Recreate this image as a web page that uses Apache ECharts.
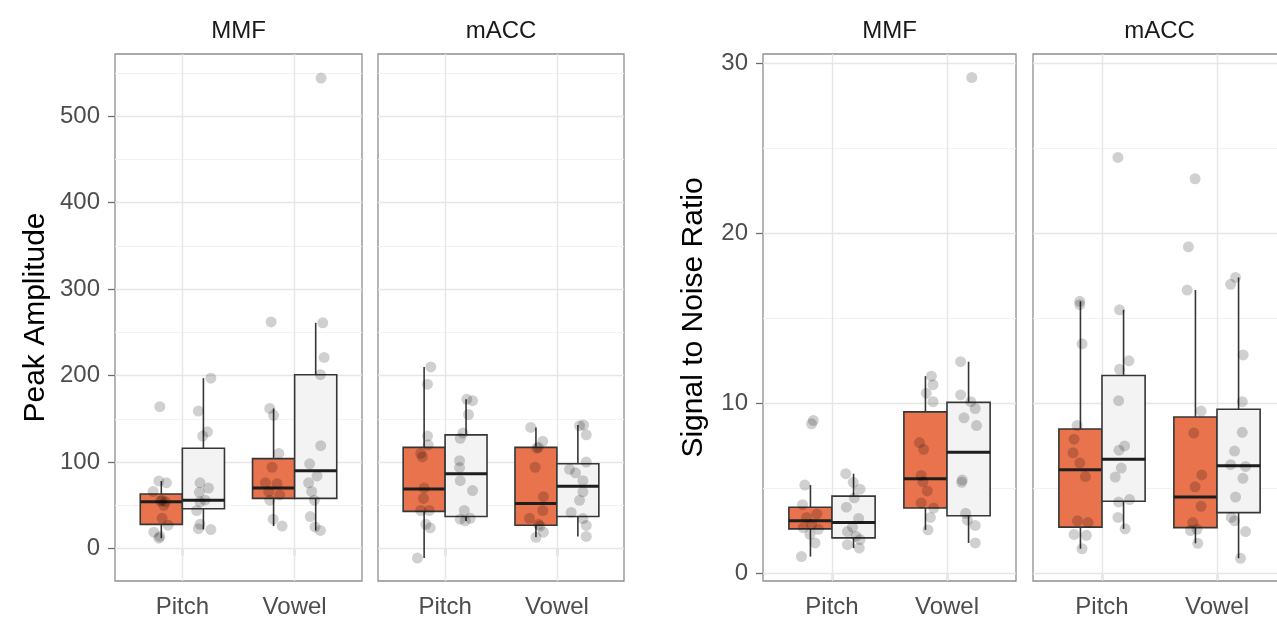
<!DOCTYPE html>
<html>
<head>
<meta charset="utf-8">
<script src="https://cdn.jsdelivr.net/npm/echarts@6/dist/echarts.min.js"></script>
<style>
html,body{margin:0;padding:0;background:#fff;}
#chart{width:1277px;height:617px;}
</style>
</head>
<body>
<div id="chart"></div>
<script>
// ---------- data ----------
const categories = ['Pitch', 'Vowel'];
const facetLabels = ['MMF', 'mACC'];
const yTitles = ['Peak Amplitude', 'Signal to Noise Ratio'];

const ampTicks = [0, 100, 200, 300, 400, 500];
const ampMinor = [50, 150, 250, 350, 450, 550];
const snrTicks = [0, 10, 20, 30];
const snrMinor = [5, 15, 25];

// box stats per category: [lower whisker, Q1, median, Q3, upper whisker]
const ampMmfBoxOrange = [[12, 28, 54, 63, 78], [26, 58, 70, 104, 162]];
const ampMmfBoxGray   = [[22, 46, 56, 116, 197], [21, 58, 90, 201, 261]];
const ampMacBoxOrange = [[-11, 43, 69, 117, 210], [13, 27, 52, 117, 140]];
const ampMacBoxGray   = [[32, 37, 86.5, 131.5, 172.5], [14, 37, 72, 98, 143]];
const snrMmfBoxOrange = [[1.0, 2.63, 3.1, 3.9, 5.2], [2.57, 3.85, 5.57, 9.5, 11.6]];
const snrMmfBoxGray   = [[1.5, 2.1, 3.0, 4.55, 5.87], [1.8, 3.4, 7.13, 10.06, 12.45]];
const snrMacBoxOrange = [[1.46, 2.73, 6.1, 8.5, 16.0], [1.78, 2.7, 4.5, 9.2, 16.66]];
const snrMacBoxGray   = [[2.63, 4.25, 6.72, 11.64, 15.5], [0.9, 3.58, 6.34, 9.66, 17.4]];

// individual observations per category, with their horizontal jitter
const ampMmfPtsOrange = [[164, 78, 76, 66, 56, 55, 54, 50, 35, 27, 19, 12, 14],
                         [262, 162, 154, 110, 94, 76, 75, 66, 62, 56, 34, 26]];
const ampMmfJitOrange = [[-0.013, -0.022, 0.046, -0.073, 0.007, -0.007, 0.037, 0.022, 0.007, 0.061, -0.067, -0.022, -0.013],
                         [-0.022, -0.034, 0.0, 0.046, -0.013, -0.073, 0.031, -0.043, 0.055, -0.034, -0.004, 0.076]];
const ampMmfPtsGray   = [[197, 159, 135, 130, 76, 65, 70, 56, 54, 44, 28, 23, 22],
                         [544, 261, 221, 201, 119, 98, 84, 76, 66, 56, 37, 25, 21]];
const ampMmfJitGray   = [[0.066, -0.045, 0.036, -0.006, -0.03, -0.036, 0.045, 0.015, -0.03, -0.06, -0.03, -0.045, 0.066],
                         [0.048, 0.063, 0.075, 0.042, 0.045, -0.054, 0.012, -0.063, -0.036, -0.012, -0.048, -0.006, 0.042]];

const ampMacPtsOrange = [[210, 190, 130, 120, 110, 106, 70, 58, 44, 44, 28, 24, -11],
                         [140, 124, 117, 116, 94, 60, 44, 35, 28, 26, 19, 13]];
const ampMacJitOrange = [[0.06, 0.03, 0.03, 0.036, -0.03, -0.015, 0, -0.006, -0.03, 0.045, 0.015, 0.054, -0.06],
                         [-0.046, 0.061, 0.022, 0.007, -0.007, 0.067, 0.061, -0.058, 0.022, 0.037, 0.067, 0.0]];
const ampMacPtsGray   = [[172.5, 171, 155, 133.5, 127.5, 101.6, 93.6, 78.5, 67, 44, 34, 32, 35],
                         [143, 131.5, 142, 100, 91.6, 87.6, 78.5, 65.7, 55.8, 41.8, 34.7, 26.7, 14]];
const ampMacJitGray   = [[0.007, 0.058, 0.022, -0.028, -0.052, -0.058, -0.058, -0.052, 0.058, -0.016, -0.052, -0.007, 0.037],
                         [0.051, 0.075, 0.015, 0.075, -0.075, -0.021, 0.045, 0.045, 0.015, -0.06, 0.045, 0.075, 0.075]];

const snrMmfPtsOrange = [[9.0, 8.8, 5.2, 4.05, 3.5, 3.3, 2.9, 2.7, 2.6, 2.3, 1.8, 1.0],
                         [11.6, 11.1, 10.6, 10.1, 7.7, 7.3, 5.77, 5.4, 4.86, 4.15, 3.85, 3.3, 2.57]];
const snrMmfJitOrange = [[0.025, 0.01, -0.049, -0.069, 0.055, -0.034, 0.01, -0.063, 0.069, -0.004, 0.04, -0.078],
                         [0.052, 0.066, 0.007, 0.066, -0.052, -0.016, -0.037, -0.022, 0.016, -0.037, 0.072, 0.043, 0.022]];
const snrMmfPtsGray   = [[5.87, 5.36, 4.96, 4.45, 3.9, 3.24, 2.73, 2.47, 2.2, 2.0, 1.7, 1.5],
                         [29.15, 12.45, 10.5, 10.1, 9.7, 9.15, 8.7, 5.5, 5.36, 3.54, 3.14, 2.83, 1.8]];
const snrMmfJitGray   = [[-0.068, -0.003, 0.056, 0.006, -0.062, 0.044, -0.009, -0.053, 0.021, 0.056, -0.053, 0.05],
                         [0.028, -0.069, -0.069, 0.019, 0.058, -0.04, 0.069, -0.055, -0.06, -0.025, -0.01, 0.058, 0.058]];

const snrMacPtsOrange = [[16.0, 15.8, 13.5, 8.7, 7.9, 7.1, 6.5, 5.7, 3.1, 3.0, 2.3, 2.25, 1.46],
                         [23.2, 19.2, 16.66, 9.55, 8.26, 5.8, 5.1, 3.95, 3.0, 2.53, 2.6, 1.78]];
const snrMacJitOrange = [[-0.006, -0.006, 0.014, -0.029, -0.055, -0.064, -0.006, 0.043, -0.026, 0.066, -0.055, 0.052, 0.014],
                         [-0.003, -0.061, -0.072, 0.049, -0.014, 0.055, -0.003, 0.049, -0.023, -0.043, 0.014, 0.02]];
const snrMacPtsGray   = [[24.45, 15.5, 12.5, 12.0, 10.16, 7.5, 7.25, 6.2, 5.67, 4.2, 4.35, 3.3, 2.63],
                         [17.4, 17.0, 12.85, 10.1, 8.3, 7.2, 6.4, 6.3, 5.6, 4.5, 3.3, 3.1, 2.47, 0.9]];
const snrMacJitGray   = [[-0.049, -0.035, 0.046, -0.035, -0.043, 0.009, -0.04, -0.02, -0.072, -0.043, 0.052, -0.049, 0.014],
                         [-0.026, -0.069, 0.04, 0.032, 0.032, -0.035, -0.069, 0.061, 0.038, -0.026, -0.064, -0.035, 0.061, 0.017]];

// ---------- styling / layout ----------
const ORANGE = '#E8734D';
const LIGHT = '#F3F3F3';
const EDGE = '#363636';
const DODGE = 0.1875;
const BOX_W = 0.375;
const FONT = '"Liberation Sans", Arial, Helvetica, sans-serif';

const ampRange = [-37.5, 571.8];
const snrRange = [-0.435, 30.53];

const panels = [
  { grid: {left: 115, top: 54, width: 247, height: 527}, range: ampRange, ticks: ampTicks, minor: ampMinor,
    showY: true, title: yTitles[0], gap: 64, strip: facetLabels[0],
    boxO: ampMmfBoxOrange, boxG: ampMmfBoxGray, ptsO: ampMmfPtsOrange, jitO: ampMmfJitOrange, ptsG: ampMmfPtsGray, jitG: ampMmfJitGray },
  { grid: {left: 378, top: 54, width: 246, height: 527}, range: ampRange, ticks: ampTicks, minor: ampMinor,
    showY: false, strip: facetLabels[1],
    boxO: ampMacBoxOrange, boxG: ampMacBoxGray, ptsO: ampMacPtsOrange, jitO: ampMacJitOrange, ptsG: ampMacPtsGray, jitG: ampMacJitGray },
  { grid: {left: 763, top: 54, width: 253, height: 527}, range: snrRange, ticks: snrTicks, minor: snrMinor,
    showY: true, title: yTitles[1], gap: 54, strip: facetLabels[0],
    boxO: snrMmfBoxOrange, boxG: snrMmfBoxGray, ptsO: snrMmfPtsOrange, jitO: snrMmfJitOrange, ptsG: snrMmfPtsGray, jitG: snrMmfJitGray },
  { grid: {left: 1033, top: 54, width: 253, height: 527}, range: snrRange, ticks: snrTicks, minor: snrMinor,
    showY: false, strip: facetLabels[1],
    boxO: snrMacBoxOrange, boxG: snrMacBoxGray, ptsO: snrMacPtsOrange, jitO: snrMacJitOrange, ptsG: snrMacPtsGray, jitG: snrMacJitGray }
];

function boxRenderer(fill) {
  return function (params, api) {
    const x = api.value(0);
    const half = api.size([BOX_W, 0])[0] / 2;
    const pMin = api.coord([x, api.value(1)]);
    const pQ1 = api.coord([x, api.value(2)]);
    const pMed = api.coord([x, api.value(3)]);
    const pQ3 = api.coord([x, api.value(4)]);
    const pMax = api.coord([x, api.value(5)]);
    return {
      type: 'group',
      children: [
        {type: 'line', shape: {x1: pMin[0], y1: pMin[1], x2: pQ1[0], y2: pQ1[1]}, style: {stroke: EDGE, lineWidth: 1.6}},
        {type: 'line', shape: {x1: pQ3[0], y1: pQ3[1], x2: pMax[0], y2: pMax[1]}, style: {stroke: EDGE, lineWidth: 1.6}},
        {type: 'rect', shape: {x: pQ1[0] - half, y: pQ3[1], width: 2 * half, height: pQ1[1] - pQ3[1]},
         style: {fill: fill, stroke: EDGE, lineWidth: 1.6}},
        {type: 'line', shape: {x1: pMed[0] - half, y1: pMed[1], x2: pMed[0] + half, y2: pMed[1]},
         style: {stroke: '#1E1E1E', lineWidth: 3}}
      ]
    };
  };
}

function boxData(stats, offset) {
  return stats.map((s, i) => [i + 1 + offset].concat(s));
}
function pointData(vals, jit, offset) {
  const out = [];
  vals.forEach((arr, i) => arr.forEach((v, k) => out.push([i + 1 + offset + jit[i][k], v])));
  return out;
}

const option = {
  animation: false,
  backgroundColor: '#ffffff',
  textStyle: {fontFamily: FONT},
  grid: [], xAxis: [], yAxis: [], series: [], graphic: []
};

panels.forEach((p, gi) => {
  option.grid.push(Object.assign({show: true, borderColor: '#8E8E8E', borderWidth: 1.3, backgroundColor: '#fff',
                                  containLabel: false, outerBoundsMode: 'none'}, p.grid));
  option.xAxis.push({
    type: 'value', gridIndex: gi, min: 0.4, max: 2.6,
    axisLine: {show: false},
    axisTick: {show: true, customValues: [1, 2], length: 7, lineStyle: {color: '#6E6E6E', width: 1.3}},
    axisLabel: {show: true, customValues: [1, 2], margin: 14, color: '#4D4D4D', fontSize: 24, fontFamily: FONT,
                formatter: v => categories[Math.round(v) - 1]},
    splitLine: {show: false}
  });
  option.yAxis.push({
    type: 'value', gridIndex: gi, min: p.range[0], max: p.range[1],
    name: p.showY ? p.title : '', nameLocation: 'middle', nameGap: p.gap || 0,
    nameTextStyle: {fontSize: 30, color: '#000', fontFamily: FONT},
    axisLine: {show: false},
    axisTick: {show: p.showY, customValues: p.ticks, length: 7, lineStyle: {color: '#6E6E6E', width: 1.3}},
    axisLabel: {show: p.showY, customValues: p.ticks, margin: 15, color: '#4D4D4D', fontSize: 24, fontFamily: FONT},
    splitLine: {show: false}
  });
  // gridlines via marker lines on a custom series (z below boxes)
  const gridLines = [];
  p.minor.forEach(v => gridLines.push({yAxis: v, lineStyle: {color: '#F2F2F2', width: 1}}));
  p.ticks.forEach(v => gridLines.push({yAxis: v, lineStyle: {color: '#E6E6E6', width: 1.4}}));
  [1, 2].forEach(v => gridLines.push({xAxis: v, lineStyle: {color: '#E6E6E6', width: 1.4}}));
  option.series.push({
    type: 'custom', xAxisIndex: gi, yAxisIndex: gi, z: 3,
    renderItem: boxRenderer(ORANGE), encode: {x: 0, y: [1, 2, 3, 4, 5]},
    data: boxData(p.boxO, -DODGE),
    markLine: {silent: true, z: 1, symbol: ['none', 'none'], label: {show: false}, animation: false,
               lineStyle: {type: 'solid'}, emphasis: {disabled: true}, data: gridLines}
  });
  option.series.push({
    type: 'custom', xAxisIndex: gi, yAxisIndex: gi, z: 3,
    renderItem: boxRenderer(LIGHT), encode: {x: 0, y: [1, 2, 3, 4, 5]},
    data: boxData(p.boxG, DODGE)
  });
  option.series.push({
    type: 'scatter', xAxisIndex: gi, yAxisIndex: gi, z: 4, symbolSize: 11,
    itemStyle: {color: 'rgba(0,0,0,0.23)'}, emphasis: {disabled: true},
    data: pointData(p.ptsO, p.jitO, -DODGE).concat(pointData(p.ptsG, p.jitG, DODGE))
  });
  option.graphic.push({
    type: 'text', x: p.grid.left + p.grid.width / 2, y: 31,
    style: {text: p.strip, fill: '#1A1A1A', font: '24px ' + FONT, textAlign: 'center', textVerticalAlign: 'middle'}
  });
});

const chart = echarts.init(document.getElementById('chart'), null, {renderer: 'canvas'});
chart.setOption(option);
</script>
</body>
</html>
